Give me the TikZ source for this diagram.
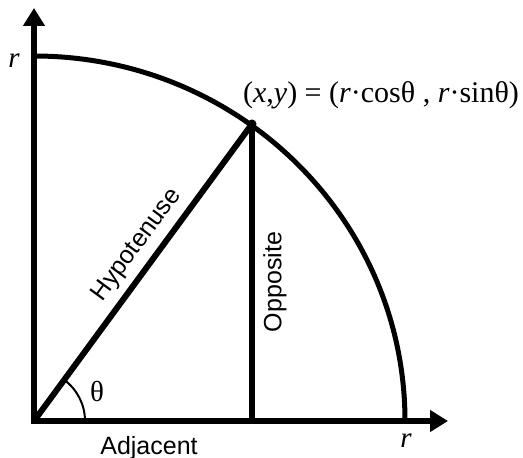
\documentclass[tikz,border=0pt]{standalone}
\usepackage{fontspec}
\setmainfont{Liberation Serif}
\setsansfont{Liberation Sans}
\usetikzlibrary{arrows.meta}
\begin{document}
\begin{tikzpicture}[x=1pt,y=1pt,
  axisline/.style={line width=6pt,-{Triangle[width=21pt,length=18pt]}},
  legline/.style={line width=6pt},
  circline/.style={line width=5pt},
  sanslabel/.style={font=\sffamily\fontsize{25}{30}\selectfont, inner sep=0pt},
  seriflabel/.style={font=\fontsize{29}{34}\selectfont, inner sep=0pt},
  eqlabel/.style={font=\fontsize{30}{36}\selectfont, inner sep=0pt}]
\useasboundingbox (0,0) rectangle (523,458);
\coordinate (O) at (34,37);
\coordinate (ytop) at (34,450);
\coordinate (xend) at (448,37);
\coordinate (P) at (252,334);
\coordinate (F) at (252,37);
\coordinate (A) at (34,402);
\coordinate (T) at (85,37);
\draw[axisline] (O) -- (ytop);
\draw[axisline] ([xshift=-3pt]O) -- (xend);
\draw[circline] (A) arc[start angle=90, end angle=0, x radius=371pt, y radius=365pt];
\draw[legline, line cap=round] (O) -- (P);
\draw[legline] (P) -- (F);
\fill (P) circle[radius=4.5pt];
\draw[line width=2pt] (T) arc[start angle=0, end angle=53.7, radius=51pt];
\node[seriflabel] (th) at (97,66) {θ};
\node[sanslabel, anchor=base] (adj) at (149,3) {Adjacent};
\node[seriflabel] (ry) at (14,397) {\itshape r};
\node[seriflabel] (rx) at (406,17) {\itshape r};
\node[eqlabel, anchor=base] (eq) at (381,355) {(\textit{x},\textit{y}) = (\textit{r}·cosθ , \textit{r}·sinθ)};
\node[sanslabel, rotate=53.7] (hyp) at (137,213) {Hypotenuse};
\node[sanslabel, rotate=90] (opp) at (275,176) {Opposite};
\end{tikzpicture}
\end{document}
